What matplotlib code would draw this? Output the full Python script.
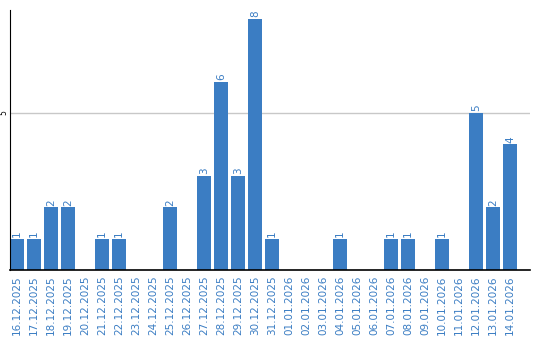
import matplotlib
matplotlib.use("Agg")
import matplotlib.pyplot as plt

# datas e contagens
dates = [
    "16.12.2025", "17.12.2025", "18.12.2025", "19.12.2025", "20.12.2025",
    "21.12.2025", "22.12.2025", "23.12.2025", "24.12.2025", "25.12.2025",
    "26.12.2025", "27.12.2025", "28.12.2025", "29.12.2025", "30.12.2025",
    "31.12.2025", "01.01.2026", "02.01.2026", "03.01.2026", "04.01.2026",
    "05.01.2026", "06.01.2026", "07.01.2026", "08.01.2026", "09.01.2026",
    "10.01.2026", "11.01.2026", "12.01.2026", "13.01.2026", "14.01.2026",
]
counts = [1, 1, 2, 2, 0, 1, 1, 0, 0, 2, 0, 3, 6, 3, 8,
          1, 0, 0, 0, 1, 0, 0, 1, 1, 0, 1, 0, 5, 2, 4]
y_ticks = [5]

BLUE = "#3b7dc3"

fig = plt.figure(figsize=(5.4, 3.4), dpi=100)
ax = fig.add_axes([10 / 540, 70 / 340, 520 / 540, 260 / 340])

x = list(range(len(dates)))
ax.bar(x, counts, width=0.82, color=BLUE, zorder=2)

for xi, c in zip(x, counts):
    if c > 0:
        ax.text(xi, c + 0.05, str(c), rotation=90, ha="center", va="bottom",
                color=BLUE, fontsize=7.5)

ax.set_xlim(-0.41, 30.18)
ax.set_ylim(0, 8.28)
ax.set_yticks(y_ticks)
ax.set_yticklabels([str(t) for t in y_ticks], rotation=90, va="center", fontsize=5.5)
ax.yaxis.grid(True, color="#c8c8c8", lw=1, zorder=0)
ax.tick_params(axis="y", length=0, pad=1)

ax.set_xticks(x)
ax.set_xticklabels(dates, rotation=90, color=BLUE, fontsize=7.5)
ax.tick_params(axis="x", length=0, pad=4)

for side in ["top", "right"]:
    ax.spines[side].set_visible(False)
ax.spines["left"].set_color("black")
ax.spines["bottom"].set_color("black")
ax.spines["bottom"].set_linewidth(1.2)

fig.savefig("out.png", dpi=100)
